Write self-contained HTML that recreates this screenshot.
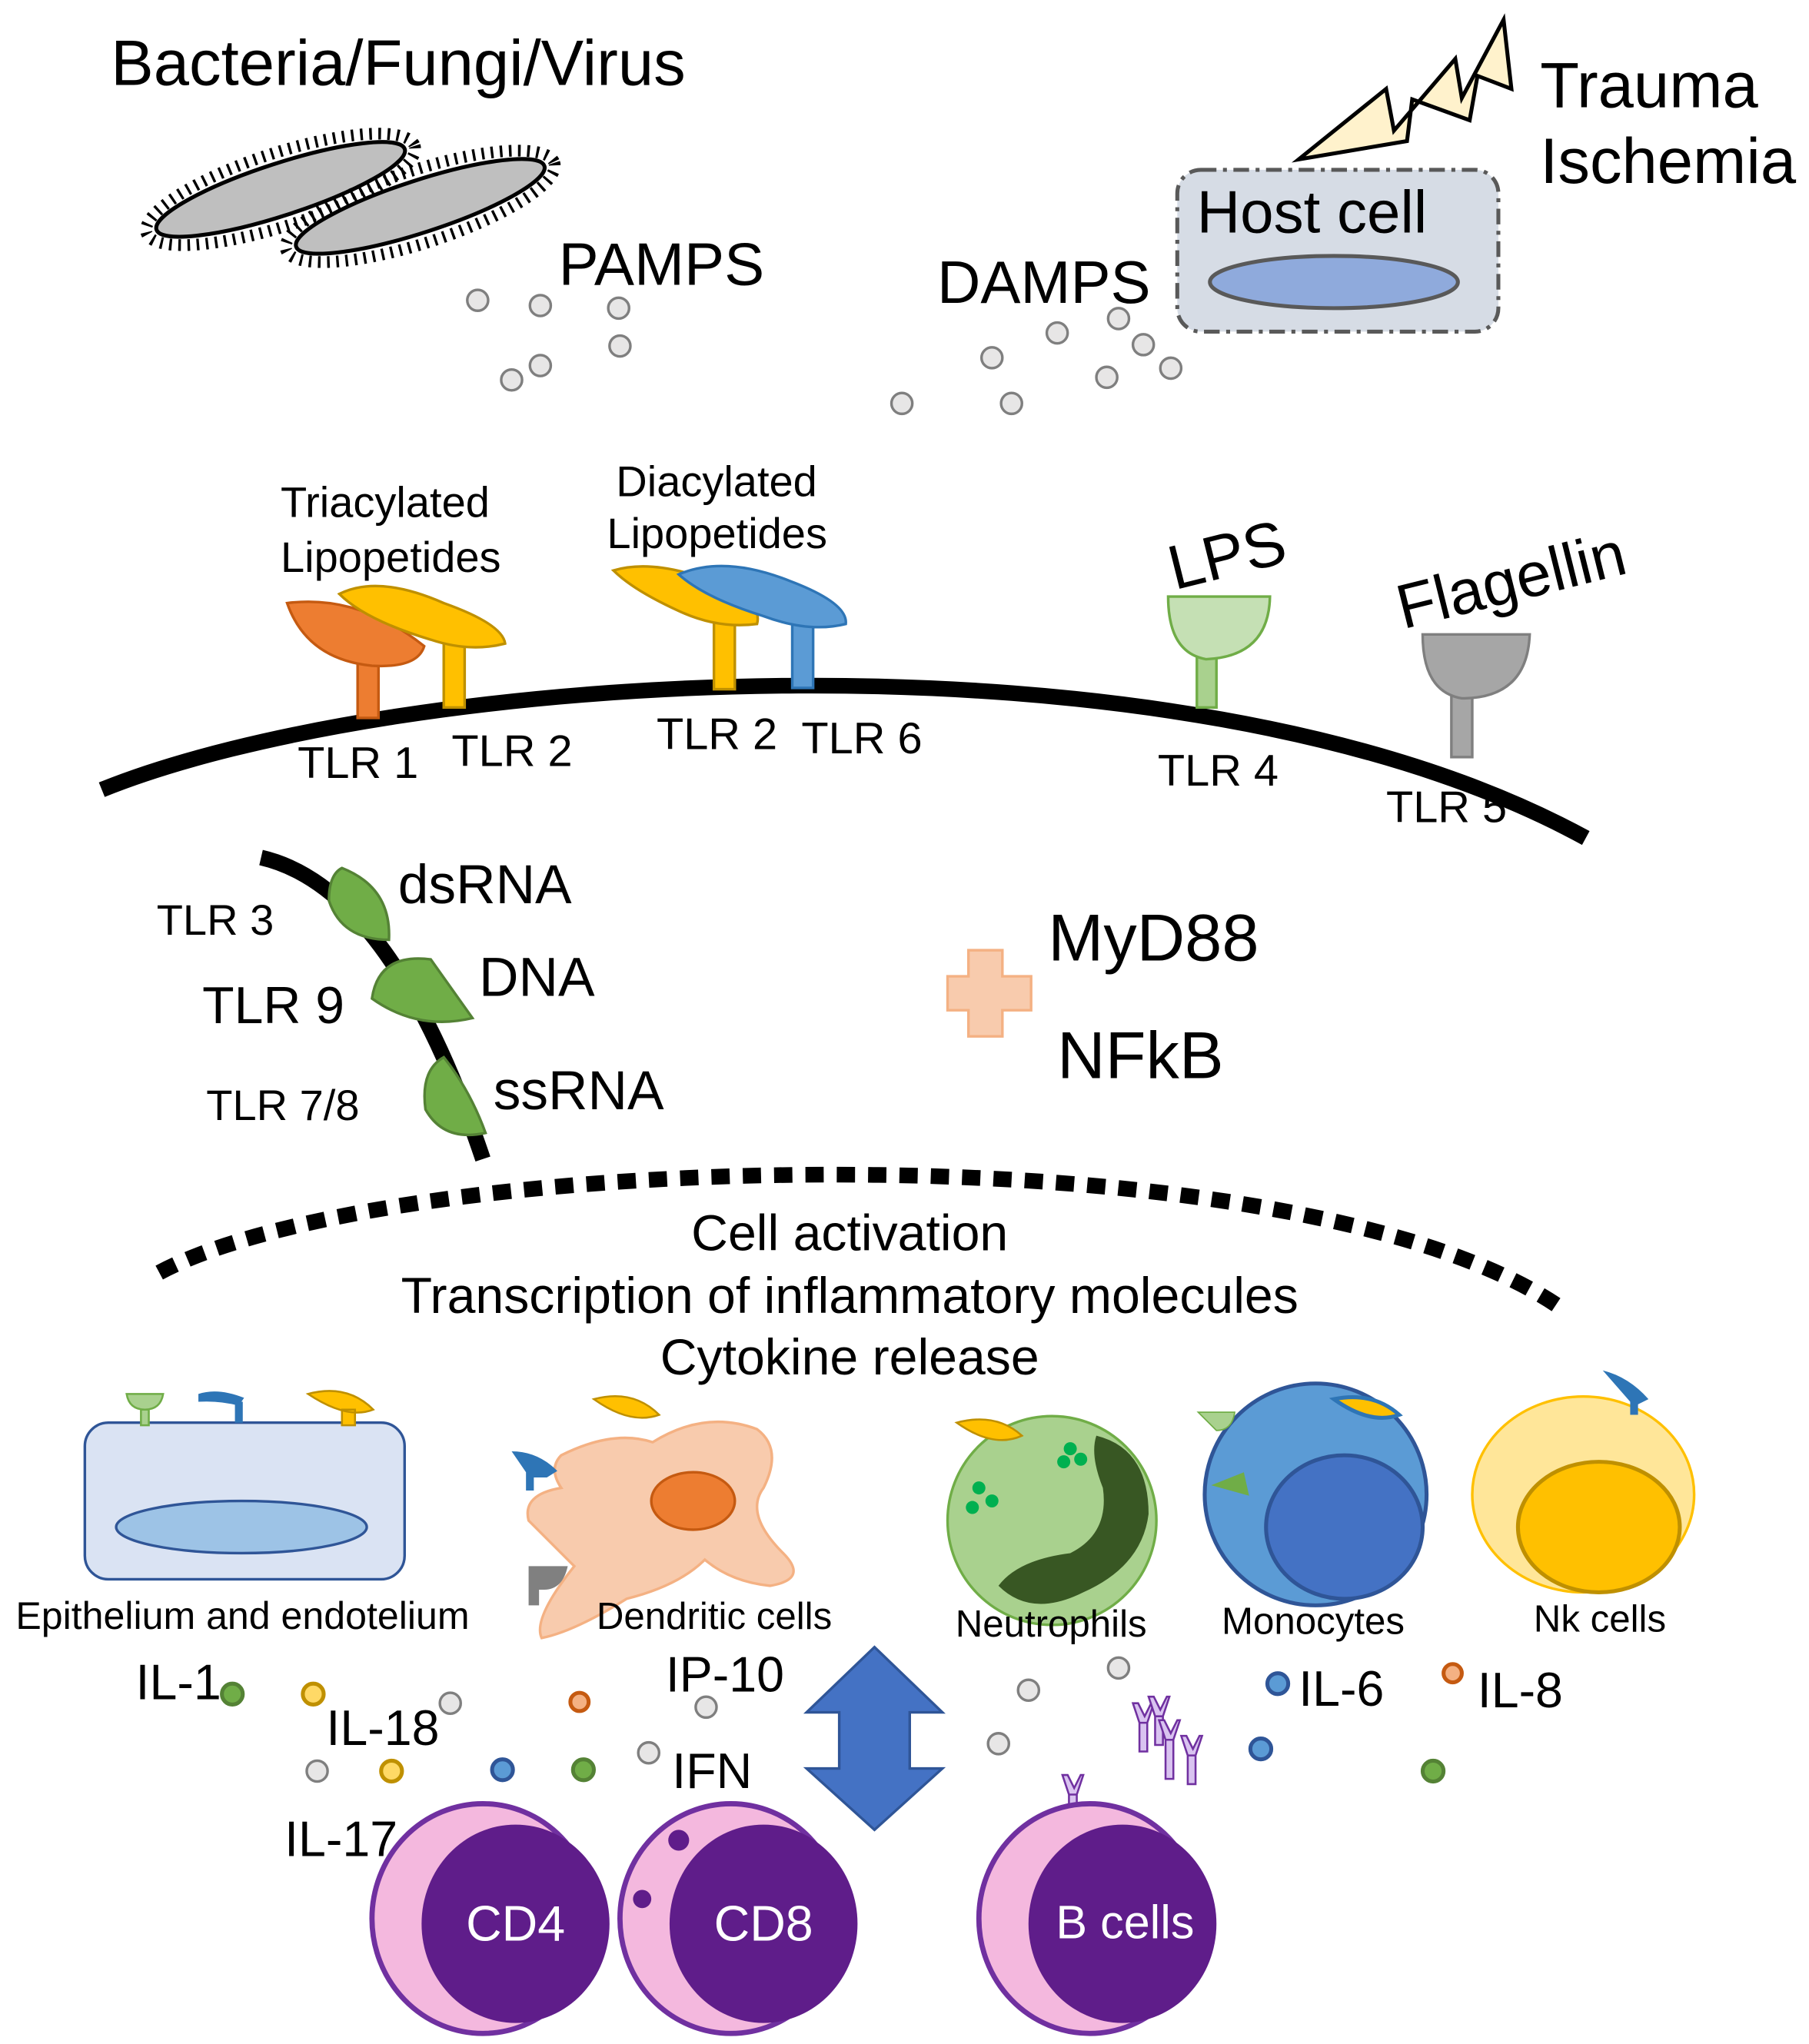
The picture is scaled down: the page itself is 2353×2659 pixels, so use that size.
<!DOCTYPE html>
<html><head><meta charset="utf-8"><style>
html,body{margin:0;padding:0;background:#fff;}
svg{display:block;}
text{font-family:"Liberation Sans",sans-serif;fill:#000;}
</style></head><body>
<svg width="2353" height="2659" viewBox="0 0 1386 1566" xmlns="http://www.w3.org/2000/svg">
<rect width="1386" height="1566" fill="#fff"/>
<!-- Top -->
<text x="85" y="65" font-size="49">Bacteria/Fungi/Virus</text>
<g>
 <ellipse cx="215" cy="145" rx="100" ry="20" transform="rotate(-18 215 145)" fill="#bfbfbf" stroke="#000" stroke-width="3"/>
 <ellipse cx="215" cy="145" rx="108" ry="28" transform="rotate(-18 215 145)" fill="none" stroke="#000" stroke-width="9" stroke-dasharray="2 5"/>
 <ellipse cx="322" cy="158" rx="100" ry="20" transform="rotate(-18 322 158)" fill="#bfbfbf" stroke="#000" stroke-width="3"/>
 <ellipse cx="322" cy="158" rx="108" ry="28" transform="rotate(-18 322 158)" fill="none" stroke="#000" stroke-width="9" stroke-dasharray="2 5"/>
</g>
<text x="428" y="218" font-size="46">PAMPS</text>
<text x="718" y="232" font-size="46">DAMPS</text>
<g fill="#e7e6e6" stroke="#7f7f7f" stroke-width="2">
 <circle cx="366" cy="230" r="8"/><circle cx="414" cy="234" r="8"/><circle cx="474" cy="236" r="8"/><circle cx="475" cy="265" r="8"/><circle cx="414" cy="280" r="8"/><circle cx="392" cy="291" r="8"/>
 <circle cx="810" cy="255" r="8"/><circle cx="857" cy="244" r="8"/><circle cx="876" cy="264" r="8"/><circle cx="897" cy="282" r="8"/><circle cx="848" cy="289" r="8"/><circle cx="760" cy="274" r="8"/><circle cx="775" cy="309" r="8"/><circle cx="691" cy="309" r="8"/>
</g>
<rect x="902" y="130" width="246" height="124" rx="18" fill="#d6dce5" stroke="#595959" stroke-width="3" stroke-dasharray="12 5 3 5"/>
<ellipse cx="1022" cy="216" rx="95" ry="20" fill="#8faadc" stroke="#595959" stroke-width="3"/>
<text x="917" y="178" font-size="46">Host cell</text>
<polygon points="995,122 1062,68 1068,100 1115,45 1120,75 1152,15 1158,68 1132,58 1126,92 1082,76 1078,108" fill="#fff2cc" stroke="#000" stroke-width="3"/>
<text x="1180" y="82" font-size="49">Trauma</text>
<text x="1180" y="140" font-size="49">Ischemia</text>
<!-- Membrane -->
<path d="M78,605 C300,515 900,470 1215,642" fill="none" stroke="#000" stroke-width="12"/>
<!-- receptors -->
<rect x="274" y="500" width="16" height="50" fill="#ed7d31" stroke="#c55a11" stroke-width="2"/>
<path d="M220,462 Q275,455 325,495 Q320,512 285,510 Q235,505 220,462Z" fill="#ed7d31" stroke="#c55a11" stroke-width="2"/>
<rect x="340" y="490" width="16" height="52" fill="#ffc000" stroke="#bf9000" stroke-width="2"/>
<path d="M260,455 Q290,440 340,462 Q385,478 387,493 Q360,500 330,490 Q280,475 260,455Z" fill="#ffc000" stroke="#bf9000" stroke-width="2"/>
<rect x="547" y="475" width="16" height="53" fill="#ffc000" stroke="#bf9000" stroke-width="2"/>
<path d="M470,437 Q500,428 545,445 Q585,460 580,478 Q550,482 520,468 Q485,452 470,437Z" fill="#ffc000" stroke="#bf9000" stroke-width="2"/>
<rect x="607" y="470" width="16" height="57" fill="#5b9bd5" stroke="#2e75b6" stroke-width="2"/>
<path d="M520,440 Q555,425 605,445 Q650,462 648,478 Q620,485 585,472 Q540,458 520,440Z" fill="#5b9bd5" stroke="#2e75b6" stroke-width="2"/>
<rect x="917" y="500" width="15" height="42" fill="#a9d18e" stroke="#70ad47" stroke-width="2"/>
<path d="M895,457 L973,457 Q972,503 924,505 Q895,500 895,457Z" fill="#c5e0b4" stroke="#70ad47" stroke-width="2"/>
<rect x="1112" y="530" width="16" height="50" fill="#a6a6a6" stroke="#7f7f7f" stroke-width="2"/>
<path d="M1090,486 L1172,486 Q1170,535 1120,535 Q1090,530 1090,486Z" fill="#a6a6a6" stroke="#7f7f7f" stroke-width="2"/>
<text x="215" y="396" font-size="33">Triacylated</text>
<text x="215" y="438" font-size="33">Lipopetides</text>
<text x="472" y="380" font-size="33">Diacylated</text>
<text x="465" y="420" font-size="33">Lipopetides</text>
<text x="900" y="452" font-size="48" transform="rotate(-14 900 452)">LPS</text>
<text x="1075" y="482" font-size="48" transform="rotate(-14 1075 482)">Flagellin</text>
<g font-size="34">
<text x="228" y="596">TLR 1</text><text x="346" y="587">TLR 2</text><text x="503" y="574">TLR 2</text><text x="614" y="577">TLR 6</text><text x="887" y="602">TLR 4</text><text x="1062" y="630">TLR 5</text>
</g>
<!-- endosome -->
<path d="M200,657 Q300,680 370,888" fill="none" stroke="#000" stroke-width="12"/>
<g fill="#70ad47" stroke="#548235" stroke-width="2">
<path d="M262,665 Q300,680 298,720 Q262,720 252,690 Q252,670 262,665Z"/>
<path d="M285,765 Q290,730 330,735 L362,780 Q320,790 285,765Z"/>
<path d="M340,810 Q360,835 372,868 Q340,875 326,850 Q322,820 340,810Z"/>
</g>
<text x="120" y="716" font-size="33">TLR 3</text>
<text x="155" y="784" font-size="40">TLR 9</text>
<text x="158" y="858" font-size="33">TLR 7/8</text>
<text x="305" y="692" font-size="42">dsRNA</text>
<text x="367" y="763" font-size="42">DNA</text>
<text x="378" y="850" font-size="42">ssRNA</text>
<path d="M742,728 h26 v20 h22 v26 h-22 v20 h-26 v-20 h-16 v-26 h16Z" fill="#f8cbad" stroke="#f4b183" stroke-width="2"/>
<text x="803" y="736" font-size="51">MyD88</text>
<text x="810" y="826" font-size="51">NFkB</text>
<!-- dotted arc -->
<path d="M122,975 C300,880 1000,860 1200,1005" fill="none" stroke="#000" stroke-width="12" stroke-dasharray="14 10"/>
<g font-size="39" text-anchor="middle">
<text x="651" y="958">Cell activation</text>
<text x="651" y="1006">Transcription of inflammatory molecules</text>
<text x="651" y="1053">Cytokine release</text>
</g>
<!-- cells -->
<rect x="65" y="1090" width="245" height="120" rx="18" fill="#dae3f3" stroke="#2f5597" stroke-width="2"/>
<ellipse cx="185" cy="1170" rx="96" ry="20" fill="#9dc3e6" stroke="#2f5597" stroke-width="2"/>
<path d="M97,1068 h28 q-2,12 -14,12 q-12,0 -14,-12z M108,1080 h6 v12 h-6z" fill="#a9d18e" stroke="#70ad47" stroke-width="1.5"/>
<path d="M152,1068 q15,-5 35,3 l-4,6 q-15,-4 -31,-3z M180,1074 h6 v16 h-6z" fill="#2e75b6"/>
<path d="M236,1068 q30,-8 50,12 q-20,8 -50,-12z M262,1080 h10 v12 h-10z" fill="#ffc000" stroke="#bf9000" stroke-width="1.5"/>
<text x="12" y="1248" font-size="29.5">Epithelium and endotelium</text>
<path d="M430,1115 Q470,1095 500,1105 Q540,1080 580,1095 Q600,1110 585,1140 Q570,1160 600,1190 Q620,1210 590,1215 Q560,1212 540,1195 Q520,1215 480,1225 Q440,1250 415,1255 Q408,1240 440,1200 Q420,1180 405,1165 Q400,1145 430,1140 Q420,1125 430,1115Z" fill="#f8cbad" stroke="#f4b183" stroke-width="2"/>
<ellipse cx="531" cy="1150" rx="32" ry="22" fill="#ed7d31" stroke="#c55a11" stroke-width="2"/>
<path d="M455,1072 q30,-8 50,12 q-22,8 -50,-12z" fill="#ffc000" stroke="#bf9000" stroke-width="1.5"/>
<path d="M392,1112 q20,0 35,15 l-8,5 h-10 v10 h-6 v-14z" fill="#2e75b6"/>
<path d="M405,1200 h30 q-4,18 -18,18 h-4 v12 h-8z" fill="#808080"/>
<text x="457" y="1248" font-size="29">Dendritic cells</text>
<circle cx="806" cy="1165" r="80" fill="#a9d18e" stroke="#70ad47" stroke-width="2"/>
<path d="M840,1100 Q880,1110 880,1160 Q875,1200 830,1220 Q790,1240 765,1215 Q780,1195 820,1190 Q850,1175 845,1140 Q835,1115 840,1100Z" fill="#385723"/>
<g fill="#00b050"><circle cx="750" cy="1140" r="5"/><circle cx="760" cy="1150" r="5"/><circle cx="745" cy="1155" r="5"/><circle cx="820" cy="1110" r="5"/><circle cx="828" cy="1118" r="5"/><circle cx="815" cy="1120" r="5"/></g>
<path d="M733,1090 q30,-8 50,10 q-22,10 -50,-10z" fill="#ffc000" stroke="#bf9000" stroke-width="1.5"/>
<text x="732" y="1254" font-size="29">Neutrophils</text>
<circle cx="1008" cy="1145" r="85" fill="#5b9bd5" stroke="#2f5597" stroke-width="3"/>
<ellipse cx="1030" cy="1170" rx="60" ry="55" fill="#4472c4" stroke="#2f5597" stroke-width="3"/>
<path d="M918,1082 h28 q-2,14 -14,14z" fill="#a9d18e" stroke="#70ad47"/>
<path d="M928,1138 l25,-10 l4,18z" fill="#70ad47"/>
<path d="M1022,1072 q30,-6 50,12 q-22,8 -50,-12z" fill="#ffc000" stroke="#2e75b6" stroke-width="3"/>
<text x="936" y="1252" font-size="29">Monocytes</text>
<ellipse cx="1213" cy="1145" rx="85" ry="75" fill="#ffe699" stroke="#ffc000" stroke-width="2"/>
<ellipse cx="1225" cy="1170" rx="62" ry="50" fill="#ffc000" stroke="#bf9000" stroke-width="3"/>
<path d="M1228,1050 q20,5 35,22 l-8,4 v8 h-6 v-10z" fill="#2e75b6"/>
<text x="1175" y="1250" font-size="29">Nk cells</text>
<!-- cytokines -->
<g font-size="38">
<text x="104" y="1302">IL-1</text><text x="250" y="1337">IL-18</text><text x="218" y="1422">IL-17</text><text x="510" y="1296">IP-10</text><text x="515" y="1370">IFN</text><text x="995" y="1307">IL-6</text><text x="1132" y="1308">IL-8</text>
</g>
<g stroke-width="3">
<g fill="#70ad47" stroke="#548235"><circle cx="178" cy="1298" r="8"/><circle cx="447" cy="1356" r="8"/><circle cx="1098" cy="1357" r="8"/></g>
<g fill="#ffd966" stroke="#bf9000"><circle cx="240" cy="1298" r="8"/><circle cx="300" cy="1357" r="8"/></g>
<g fill="#f4b183" stroke="#c55a11"><circle cx="444" cy="1304" r="7"/><circle cx="1113" cy="1282" r="7"/></g>
<g fill="#5b9bd5" stroke="#2f5597"><circle cx="385" cy="1356" r="8"/><circle cx="979" cy="1290" r="8"/><circle cx="966" cy="1340" r="8"/></g>
<g fill="#e7e6e6" stroke="#7f7f7f" stroke-width="2"><circle cx="345" cy="1305" r="8"/><circle cx="243" cy="1357" r="8"/><circle cx="541" cy="1308" r="8"/><circle cx="497" cy="1343" r="8"/><circle cx="788" cy="1295" r="8"/><circle cx="857" cy="1278" r="8"/><circle cx="765" cy="1336" r="8"/></g>
</g>
<!-- antibodies -->
<g fill="#d9c3f0" stroke="#7030a0" stroke-width="1.5">
<path d="M868,1305 l5,15 h6 l5,-15 l-2,0 l-5,10 l-5,-10z M873,1320 h6 v22 h-6z"/>
<path d="M880,1300 l5,15 h6 l5,-15 l-2,0 l-5,10 l-5,-10z M885,1315 h6 v22 h-6z"/>
<path d="M888,1318 l5,15 h6 l5,-15 l-2,0 l-5,10 l-5,-10z M893,1333 h6 v30 h-6z"/>
<path d="M905,1330 l5,15 h6 l5,-15 l-2,0 l-5,10 l-5,-10z M910,1345 h6 v22 h-6z"/>
<path d="M814,1360 l5,15 h6 l5,-15 l-2,0 l-5,10 l-5,-10z M819,1375 h6 v18 h-6z"/>
</g>
<!-- arrow -->
<path d="M670,1262 L722,1312 L697,1312 L697,1355 L722,1355 L670,1402 L618,1355 L643,1355 L643,1312 L618,1312Z" fill="#4472c4" stroke="#2f5597" stroke-width="2"/>
<!-- lymphocytes -->
<g>
<ellipse cx="370" cy="1470" rx="85" ry="88" fill="#f4b8de" stroke="#7030a0" stroke-width="4"/>
<ellipse cx="395" cy="1474" rx="72" ry="76" fill="#5f1d8a"/>
<text x="395" y="1487" font-size="38" text-anchor="middle" style="fill:#fff">CD4</text>
<ellipse cx="560" cy="1470" rx="85" ry="88" fill="#f4b8de" stroke="#7030a0" stroke-width="4"/>
<ellipse cx="585" cy="1474" rx="72" ry="76" fill="#5f1d8a"/>
<circle cx="520" cy="1410" r="8" fill="#5f1d8a"/><circle cx="492" cy="1455" r="7" fill="#5f1d8a"/>
<text x="585" y="1487" font-size="38" text-anchor="middle" style="fill:#fff">CD8</text>
<ellipse cx="835" cy="1470" rx="85" ry="88" fill="#f4b8de" stroke="#7030a0" stroke-width="4"/>
<ellipse cx="860" cy="1474" rx="72" ry="76" fill="#5f1d8a"/>
<text x="862" y="1485" font-size="36" text-anchor="middle" style="fill:#fff">B cells</text>
</g>
</svg>
</body></html>
